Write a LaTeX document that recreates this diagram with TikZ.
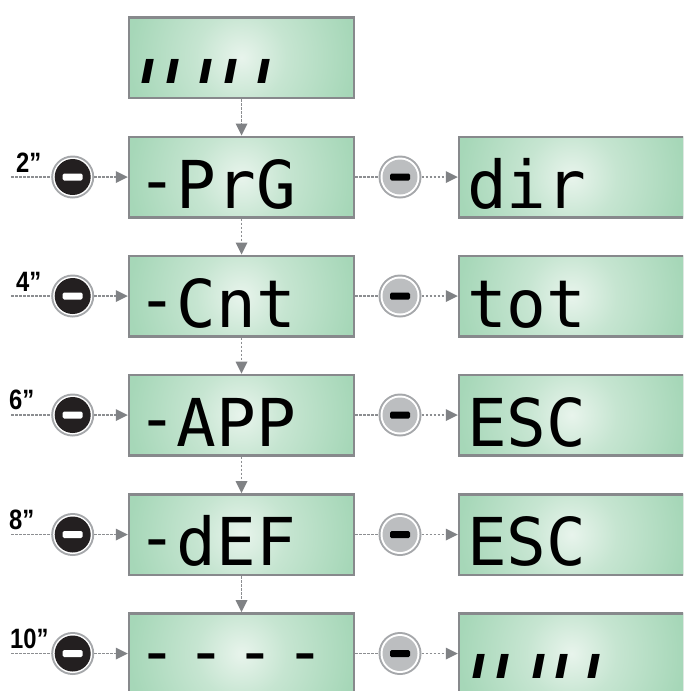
\documentclass[tikz,border=0pt]{standalone}
\usepackage{fontspec}
\usetikzlibrary{arrows.meta}
\newfontfamily\segfont{DejaVu Sans Mono}
\newfontfamily\tickfont{DejaVu Sans}
\newfontfamily\labfont{Liberation Sans}
\definecolor{lcdin}{RGB}{232,244,236}
\definecolor{lcdmid}{RGB}{198,229,209}
\definecolor{lcdout}{RGB}{166,215,184}
\definecolor{framecol}{RGB}{135,137,140}
\definecolor{conncol}{RGB}{140,142,145}
\definecolor{tipcol}{RGB}{128,130,133}
\definecolor{ringcol}{RGB}{165,167,170}
\definecolor{btngray}{RGB}{188,190,192}
\definecolor{btnblack}{RGB}{35,31,32}
\pgfdeclareradialshading{lcdshade}{\pgfpoint{0bp}{0bp}}{color(0bp)=(lcdin); color(45bp)=(lcdmid); color(112bp)=(lcdout); color(130bp)=(lcdout)}
\tikzset{
  lcd/.style={rectangle, minimum width=225pt, minimum height=80.5pt, inner sep=0pt,
    draw=framecol, line width=2.5pt, fill=lcdout,
    path picture={\pgftext[at=\pgfpointanchor{path picture bounding box}{center}]{\pgfuseshading{lcdshade}}}},
  segtext/.style={font=\segfont\fontsize{66pt}{66pt}\selectfont, inner sep=0pt, text depth=0pt, anchor=base west},
  ticktext/.style={font=\tickfont\bfseries\itshape\fontsize{44pt}{44pt}\selectfont, inner sep=0pt, text depth=0pt, anchor=base west},
  labtext/.style={font=\labfont\bfseries\fontsize{28pt}{28pt}\selectfont, inner sep=0pt, anchor=base west},
  blackbtn/.style={circle, minimum size=43pt, inner sep=0pt, fill=ringcol,
    path picture={
      \fill[white] (path picture bounding box.center) circle (19.5pt);
      \fill[btnblack] (path picture bounding box.center) circle (18pt);
      \fill[white, rounded corners=1.5pt] ([xshift=-10pt,yshift=-3.5pt]path picture bounding box.center) rectangle ([xshift=10pt,yshift=3.5pt]path picture bounding box.center);}},
  graybtn/.style={circle, minimum size=43pt, inner sep=0pt, fill=ringcol,
    path picture={
      \fill[white] (path picture bounding box.center) circle (19.5pt);
      \fill[btngray] (path picture bounding box.center) circle (17.5pt);
      \fill[black, rounded corners=1.5pt] ([xshift=-10pt,yshift=-3.5pt]path picture bounding box.center) rectangle ([xshift=10pt,yshift=3.5pt]path picture bounding box.center);}},
  conn/.style={draw=conncol, line width=1.5pt, dash pattern=on 2.5pt off 1.5pt},
  arr/.style={conn, -{Triangle[length=12pt, width=12pt, line width=0pt, color=tipcol]}}
}
\newcommand{\tk}[1]{\makebox[#1][l]{ı}}
\newcommand{\dsh}{\makebox[49.3pt][l]{-}}
\newcommand{\hy}{\raisebox{5pt}{-}}
\begin{document}
\begin{tikzpicture}[x=1pt, y=-1pt]
\useasboundingbox (0,0) rectangle (683,691);
\clip (0,0) rectangle (683,691);
% LCD boxes, left column
\node[lcd] (L0) at (241.5,57.5) {};
\node[lcd] (L1) at (241.5,177) {};
\node[lcd] (L2) at (241.5,296) {};
\node[lcd] (L3) at (241.5,415) {};
\node[lcd] (L4) at (241.5,534.5) {};
\node[lcd] (L5) at (241.5,653.5) {};
% LCD boxes, right column
\node[lcd] (R1) at (571.5,177) {};
\node[lcd] (R2) at (571.5,296) {};
\node[lcd] (R3) at (571.5,415) {};
\node[lcd] (R4) at (571.5,534.5) {};
\node[lcd] (R5) at (571.5,653.5) {};
% display texts
\node[ticktext] (t0) at (140,83) {\tk{25pt}\tk{33.3pt}\tk{25pt}\tk{32.7pt}ı};
\node[segtext] (t1) at (137,208) {\hy PrG};
\node[segtext] (t2) at (137,327) {\hy Cnt};
\node[segtext] (t3) at (137,446) {\hy APP};
\node[segtext] (t4) at (137,565.5) {\hy dEF};
\node[segtext] (t5) at (137,674) {\dsh\dsh\dsh-};
\node[segtext] (u1) at (467,208) {dir};
\node[segtext] (u2) at (467,327) {tot};
\node[segtext] (u3) at (467,446) {ESC};
\node[segtext] (u4) at (467,565.5) {ESC};
\node[ticktext] (u5) at (471,678) {\tk{24pt}\tk{36pt}\tk{23pt}\tk{32pt}ı};
% black buttons
\node[blackbtn] (K1) at (72.7,177) {};
\node[blackbtn] (K2) at (72.7,296) {};
\node[blackbtn] (K3) at (72.7,415) {};
\node[blackbtn] (K4) at (72.7,534.5) {};
\node[blackbtn] (K5) at (72.7,653.5) {};
% gray buttons
\node[graybtn] (G1) at (400,177) {};
\node[graybtn] (G2) at (400,296) {};
\node[graybtn] (G3) at (400,415) {};
\node[graybtn] (G4) at (400,534.5) {};
\node[graybtn] (G5) at (400,653.5) {};
% time labels
\node[labtext] (n1) at (16,172) {\scalebox{0.85}[1]{2”}};
\node[labtext] (n2) at (16,291) {\scalebox{0.85}[1]{4”}};
\node[labtext] (n3) at (9,409) {\scalebox{0.85}[1]{6”}};
\node[labtext] (n4) at (9,529) {\scalebox{0.85}[1]{8”}};
\node[labtext] (n5) at (10,648) {\scalebox{0.85}[1]{10”}};
% free line ends
\coordinate (S1) at (11,177);
\coordinate (S2) at (11,296);
\coordinate (S3) at (11,415);
\coordinate (S4) at (11,534.5);
\coordinate (S5) at (11,653.5);
% vertical connectors
\draw[arr] (L0) -- (L1);
\draw[arr] (L1) -- (L2);
\draw[arr] (L2) -- (L3);
\draw[arr] (L3) -- (L4);
\draw[arr] (L4) -- (L5);
% horizontal connectors
\foreach \i in {1,...,5}{
  \draw[conn] (S\i) -- (K\i);
  \draw[arr] (K\i) -- (L\i);
  \draw[conn] (L\i) -- (G\i);
  \draw[arr] (G\i) -- (R\i);
}
\end{tikzpicture}
\end{document}
